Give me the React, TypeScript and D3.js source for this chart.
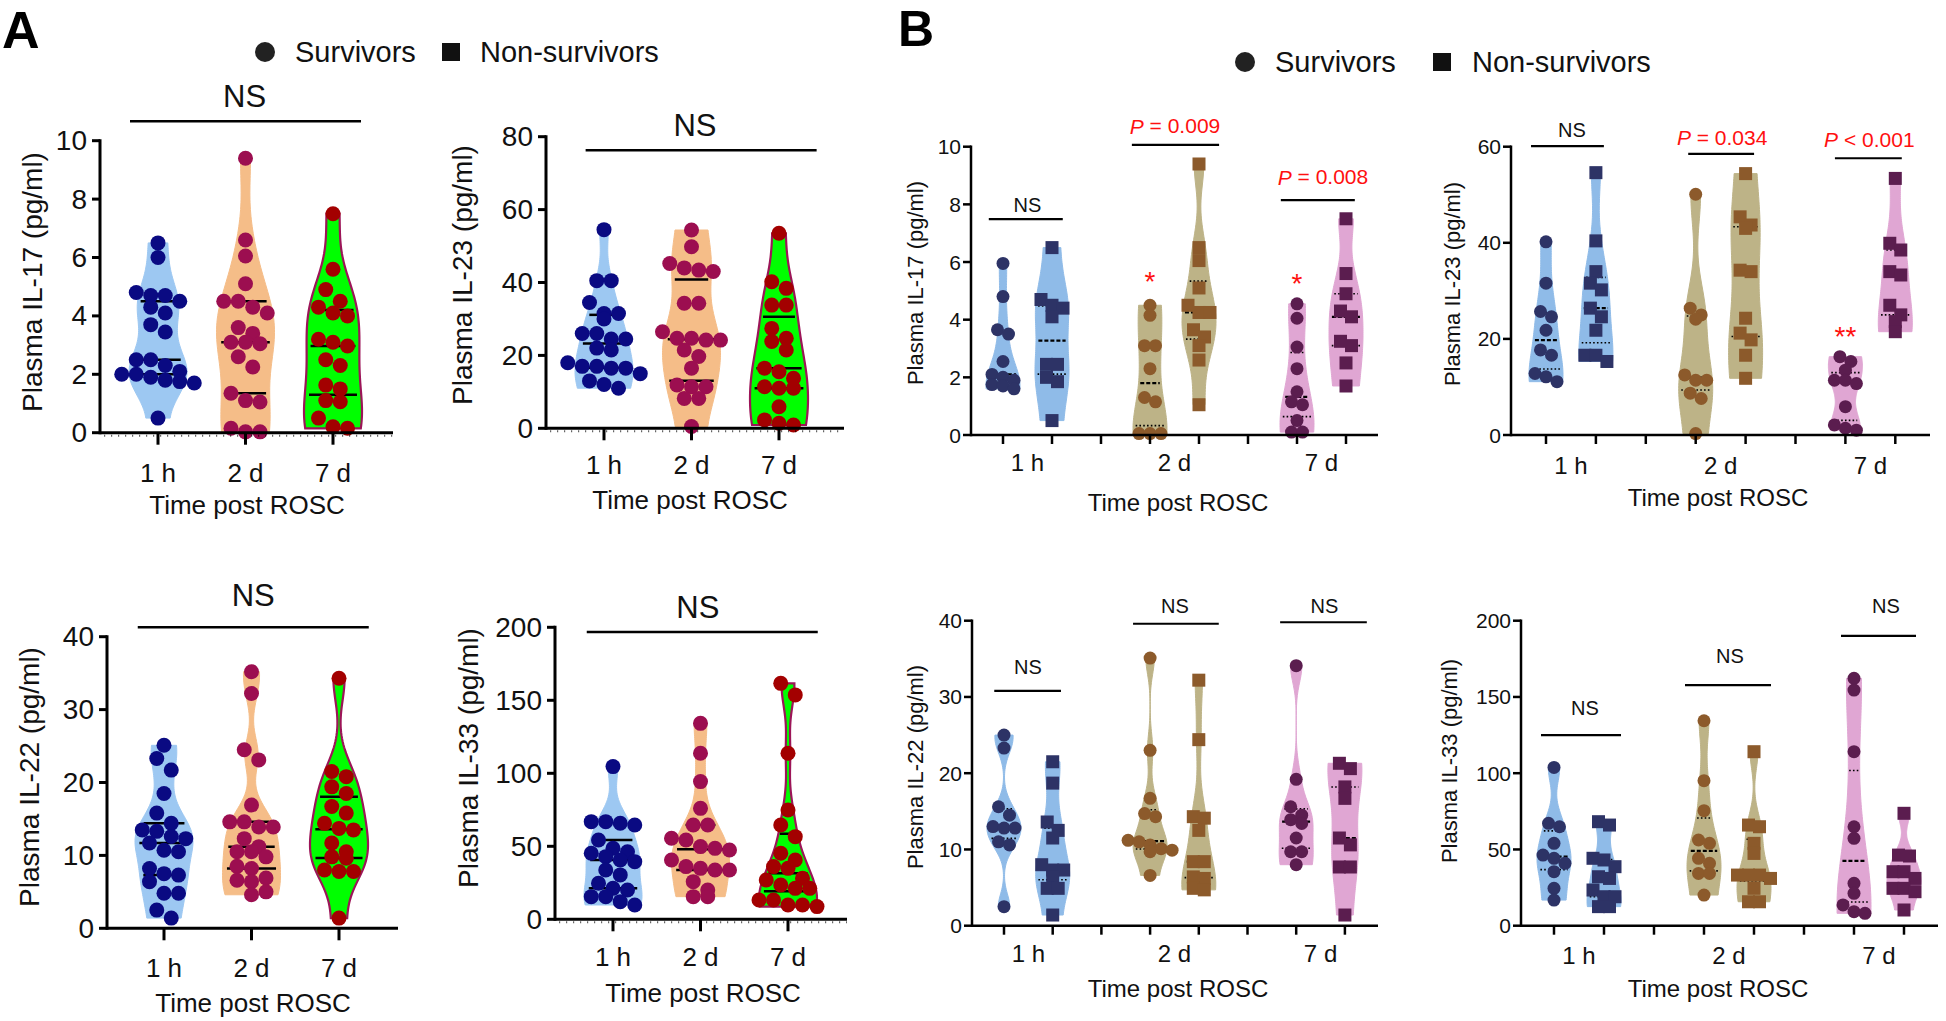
import React from 'react';
import * as d3 from 'd3';

// ================= DATA =================
const timeLabels = ['1 h', '2 d', '7 d'];
const legendLabels = ['Survivors', 'Non-survivors'];
const xTitle = 'Time post ROSC';

// Panel A (all patients) – values in pg/ml
const aIL17_1h = [6.5, 6.0, 4.8, 4.7, 4.7, 4.5, 4.3, 4.1, 3.7, 3.45, 2.5, 2.5, 2.3, 2.1, 2.0, 2.0, 1.9, 1.8, 1.75, 1.7, 0.5];
const aIL17_2d = [9.4, 6.6, 6.05, 5.1, 4.5, 4.5, 4.3, 4.1, 3.6, 3.4, 3.05, 3.1, 3.1, 2.6, 2.25, 1.35, 1.05, 1.1, 0.03, 0.03, 0.15];
const aIL17_7d = [7.5, 5.6, 4.9, 4.5, 4.3, 4.1, 4.0, 3.2, 3.1, 2.97, 2.5, 2.3, 1.63, 1.5, 1.06, 1.1, 0.5, 0.2, 0.15];

const aIL23_1h = [54.5, 40.5, 40.5, 34.5, 31.5, 31.5, 30, 26, 26, 24.5, 24.5, 22, 21.5, 18, 17, 16.5, 17, 16.5, 15, 13, 12, 11];
const aIL23_2d = [54.4, 49.8, 45.2, 43, 43.4, 44, 34.3, 34.3, 26.5, 24.2, 24.2, 24.7, 24.7, 21.5, 19.7, 16.5, 11.4, 11.9, 11.4, 8.2, 8.2, 0.5];
const aIL23_7d = [53.5, 40.2, 38.4, 33.8, 33.8, 27.4, 24.7, 23.8, 21.5, 15.5, 16.5, 13.7, 11, 11.4, 11, 5.9, 0.9, 1.4, 2.3];

const aIL22_1h = [25.1, 23.3, 21.7, 18.5, 15.8, 14.4, 12.6, 13.5, 12.3, 13.3, 11.7, 10.7, 10.5, 8.2, 7.5, 7.3, 6.4, 4.8, 4.8, 2.5, 1.4];
const aIL22_2d = [35.2, 32.2, 24.5, 23.1, 16.9, 14.6, 13.9, 13.9, 14.6, 12.3, 11.2, 10.5, 10.5, 9.8, 8.5, 8.2, 6.9, 6.4, 6.6, 4.6, 5.0];
const aIL22_7d = [34.3, 21.5, 20.8, 19.4, 18.5, 16.7, 15.8, 14.4, 13.7, 13.5, 11.7, 9.6, 10.5, 9.8, 8.0, 7.8, 7.8, 1.4];

const aIL33_1h = [104.6, 64.6, 65.8, 66.9, 66.9, 54.3, 48.6, 42.9, 46.3, 45.2, 40.6, 39.5, 33.8, 30.4, 24.7, 21.2, 20.1, 15.5, 15.5, 12.1, 9.8];
const aIL33_2d = [134.2, 113.7, 94.3, 76.0, 64.6, 64.6, 55.5, 54.3, 49.8, 48.6, 47.5, 40.6, 36.1, 33.8, 34.9, 33.8, 25.8, 20.1, 15.5, 15.5];
const aIL33_7d = [161.6, 153.7, 113.7, 74.9, 64.6, 56.6, 45.2, 40.6, 36.1, 34.9, 28.1, 26.9, 23.5, 21.2, 21.2, 13.2, 13.2, 9.8, 9.8, 8.7];

// Panel B (survivors S vs non-survivors N)
const bIL17_1hS = [5.95, 4.8, 3.65, 3.5, 2.55, 2.1, 2.0, 1.9, 1.75, 1.7, 1.6];
const bIL17_1hN = [6.5, 4.7, 4.5, 4.4, 4.1, 2.45, 2.45, 2.0, 1.85, 0.5];
const bIL17_2dS = [4.5, 4.15, 3.1, 3.1, 2.3, 1.3, 1.15, 0.05, 0.05, 0.05];
const bIL17_2dN = [9.4, 6.5, 6.05, 5.1, 4.5, 4.25, 4.25, 3.65, 3.4, 3.1, 2.6, 1.05];
const bIL17_7dS = [4.55, 4.05, 3.05, 2.3, 1.5, 1.15, 1.05, 0.5, 0.1, 0.1];
const bIL17_7dN = [7.5, 5.6, 4.9, 4.3, 4.1, 3.25, 3.1, 2.5, 1.7];

const bIL23_1hS = [40.2, 31.6, 25.7, 24.6, 21.8, 17.7, 16.6, 12.8, 12.1, 11.1];
const bIL23_1hN = [54.6, 40.4, 34.0, 31.6, 30.2, 26.4, 24.6, 21.8, 16.6, 16.6, 15.3];
const bIL23_2dS = [50.1, 26.4, 25.0, 24.1, 12.5, 11.4, 11.4, 8.7, 7.6, 0.3];
const bIL23_2dN = [54.4, 45.4, 43.7, 43.0, 34.3, 34.0, 24.3, 21.2, 19.8, 16.6, 11.8];
const bIL23_7dS = [16.3, 15.3, 13.5, 11.4, 11.4, 10.7, 5.9, 2.1, 1.4, 1.0];
const bIL23_7dN = [53.4, 39.9, 38.5, 34.0, 33.3, 27.0, 25.0, 23.6, 21.5];

const bIL22_1hS = [25.0, 23.3, 15.6, 14.5, 13.0, 12.8, 12.8, 11.0, 10.6, 2.5];
const bIL22_1hN = [21.5, 18.7, 13.6, 12.5, 11.5, 8.0, 7.3, 7.3, 6.4, 4.9, 4.9, 1.4];
const bIL22_2dS = [35.1, 23.0, 16.7, 14.7, 14.3, 11.2, 11.0, 10.6, 10.1, 9.9, 9.7, 6.6];
const bIL22_2dN = [32.2, 24.4, 14.3, 14.1, 12.5, 8.4, 8.4, 6.4, 6.2, 4.9, 4.7];
const bIL22_7dS = [34.1, 19.2, 15.6, 14.5, 13.9, 13.4, 11.5, 9.7, 9.7, 8.0];
const bIL22_7dN = [21.3, 20.6, 18.2, 16.7, 11.5, 10.6, 7.7, 7.7, 1.4];

const bIL33_1hS = [103.8, 67.1, 64.9, 54.0, 46.3, 44.2, 40.9, 35.4, 24.5, 16.8];
const bIL33_1hN = [68.2, 66.0, 44.2, 43.1, 38.7, 32.1, 31.0, 23.4, 19.0, 19.0, 12.5, 12.5];
const bIL33_2dS = [134.4, 95.1, 75.4, 56.2, 54.0, 44.2, 40.9, 34.3, 34.3, 20.1];
const bIL33_2dN = [114.1, 66.0, 64.9, 54.0, 47.4, 33.2, 33.2, 33.2, 31.0, 24.5, 15.7, 15.7];
const bIL33_7dS = [162.2, 154.5, 114.1, 64.9, 57.3, 27.8, 21.2, 13.6, 9.2, 8.1];
const bIL33_7dN = [73.7, 46.3, 45.7, 35.4, 35.4, 31.0, 24.5, 24.5, 22.3, 10.3];

// ================= STYLE =================
const FONT = '"Liberation Sans", Arial, Helvetica, sans-serif';
const A_COL = [
  { fill: '#9DC8F2', pt: '#0A0A82', stroke: 'none' },
  { fill: '#F5BD88', pt: '#9C0E50', stroke: 'none' },
  { fill: '#00FF00', pt: '#A30000', stroke: '#9C1558' },
];
const B_COL = [
  { fill: '#8FBBE8', pt: '#2D3366' },
  { fill: '#BDB387', pt: '#8C5A2B' },
  { fill: '#E0A6D3', pt: '#5B1D4F' },
];
const RED = '#FF1010';

type Group = { idx: number; values: number[]; fill: string; pt: string; stroke?: string; shape: 'c' | 's' };
type Sig = { x0: number; x1: number; y: number; ty: number; tx: number; text: string; p?: string };
type Star = { idx: number; y: number; text: string };
type Cfg = {
  kind: 'A' | 'B';
  axisX: number; yBottom: number; yTop: number; yMax: number; yStep: number;
  xFirst: number; xStep: number; xEnd: number;
  ylabel: string; ylx: number; yly: number;
  tickLabelY: number; titleX: number; titleY: number;
  groups: Group[]; sig: Sig[]; stars: Star[]; minor?: boolean;
};

const aGroups = (d: number[][]): Group[] =>
  d.map((v, i) => ({ idx: i, values: v, fill: A_COL[i].fill, pt: A_COL[i].pt, stroke: A_COL[i].stroke, shape: 'c' }));
const bGroups = (d: number[][]): Group[] =>
  d.map((v, i) => {
    const t = Math.floor(i / 2);
    return { idx: t * 3 + (i % 2), values: v, fill: B_COL[t].fill, pt: B_COL[t].pt, shape: i % 2 === 0 ? 'c' : 's' };
  });

const panels: Cfg[] = [
  {
    kind: 'A', axisX: 100, yBottom: 432.7, yTop: 140.7, yMax: 10, yStep: 2, xFirst: 158, xStep: 87.5, xEnd: 393,
    ylabel: 'Plasma IL-17 (pg/ml)', ylx: 32, yly: 282, tickLabelY: 473, titleX: 247, titleY: 505, minor: true,
    groups: aGroups([aIL17_1h, aIL17_2d, aIL17_7d]),
    sig: [{ x0: -0.32, x1: 2.32, y: 10.67, ty: 11.5, tx: 0.99, text: 'NS' }], stars: [],
  },
  {
    kind: 'A', axisX: 546, yBottom: 428.3, yTop: 136.7, yMax: 80, yStep: 20, xFirst: 604, xStep: 87.5, xEnd: 844,
    ylabel: 'Plasma IL-23 (pg/ml)', ylx: 462, yly: 275, tickLabelY: 465, titleX: 690, titleY: 500, minor: true,
    groups: aGroups([aIL23_1h, aIL23_2d, aIL23_7d]),
    sig: [{ x0: -0.21, x1: 2.43, y: 76.3, ty: 83.2, tx: 1.04, text: 'NS' }], stars: [],
  },
  {
    kind: 'A', axisX: 107, yBottom: 928.3, yTop: 636.7, yMax: 40, yStep: 10, xFirst: 164, xStep: 87.5, xEnd: 398,
    ylabel: 'Plasma IL-22 (pg/ml)', ylx: 29, yly: 777, tickLabelY: 968, titleX: 253, titleY: 1003,
    groups: aGroups([aIL22_1h, aIL22_2d, aIL22_7d]),
    sig: [{ x0: -0.3, x1: 2.34, y: 41.3, ty: 45.7, tx: 1.02, text: 'NS' }], stars: [],
  },
  {
    kind: 'A', axisX: 555, yBottom: 919.3, yTop: 627.3, yMax: 200, yStep: 50, xFirst: 613, xStep: 87.5, xEnd: 847,
    ylabel: 'Plasma IL-33 (pg/ml)', ylx: 468, yly: 758, tickLabelY: 957, titleX: 703, titleY: 993, minor: true,
    groups: aGroups([aIL33_1h, aIL33_2d, aIL33_7d]),
    sig: [{ x0: -0.3, x1: 2.34, y: 196.8, ty: 213.9, tx: 0.97, text: 'NS' }], stars: [],
  },
  {
    kind: 'B', axisX: 971, yBottom: 435, yTop: 146.7, yMax: 10, yStep: 2, xFirst: 1003, xStep: 49, xEnd: 1378,
    ylabel: 'Plasma IL-17 (pg/ml)', ylx: 915, yly: 283, tickLabelY: 462, titleX: 1178, titleY: 502,
    groups: bGroups([bIL17_1hS, bIL17_1hN, bIL17_2dS, bIL17_2dN, bIL17_7dS, bIL17_7dN]),
    sig: [
      { x0: -0.29, x1: 1.22, y: 7.49, ty: 7.98, tx: 0.5, text: 'NS' },
      { x0: 2.63, x1: 4.41, y: 10.06, ty: 10.72, tx: 3.51, text: '', p: ' = 0.009' },
      { x0: 5.67, x1: 7.18, y: 8.15, ty: 8.95, tx: 6.53, text: '', p: ' = 0.008' },
    ],
    stars: [{ idx: 3, y: 5.55, text: '*' }, { idx: 6, y: 5.48, text: '*' }],
  },
  {
    kind: 'B', axisX: 1511, yBottom: 435, yTop: 146.7, yMax: 60, yStep: 20, xFirst: 1546, xStep: 49.9, xEnd: 1930,
    ylabel: 'Plasma IL-23 (pg/ml)', ylx: 1452, yly: 284, tickLabelY: 465, titleX: 1718, titleY: 497,
    groups: bGroups([bIL23_1hS, bIL23_1hN, bIL23_2dS, bIL23_2dN, bIL23_7dS, bIL23_7dN]),
    sig: [
      { x0: -0.3, x1: 1.16, y: 60.1, ty: 63.5, tx: 0.52, text: 'NS' },
      { x0: 2.85, x1: 4.17, y: 58.5, ty: 62, tx: 3.53, text: '', p: ' = 0.034' },
      { x0: 5.79, x1: 7.13, y: 57.6, ty: 61.6, tx: 6.48, text: '', p: ' < 0.001' },
    ],
    stars: [{ idx: 6, y: 21.9, text: '**' }],
  },
  {
    kind: 'B', axisX: 972, yBottom: 925.7, yTop: 620.7, yMax: 40, yStep: 10, xFirst: 1004, xStep: 48.7, xEnd: 1378,
    ylabel: 'Plasma IL-22 (pg/ml)', ylx: 915, yly: 767, tickLabelY: 953, titleX: 1178, titleY: 988,
    groups: bGroups([bIL22_1hS, bIL22_1hN, bIL22_2dS, bIL22_2dN, bIL22_7dS, bIL22_7dN]),
    sig: [
      { x0: -0.2, x1: 1.17, y: 30.8, ty: 33.9, tx: 0.49, text: 'NS' },
      { x0: 2.65, x1: 4.41, y: 39.6, ty: 41.9, tx: 3.51, text: 'NS' },
      { x0: 5.67, x1: 7.45, y: 39.8, ty: 41.9, tx: 6.58, text: 'NS' },
    ],
    stars: [],
  },
  {
    kind: 'B', axisX: 1521, yBottom: 925.7, yTop: 620.7, yMax: 200, yStep: 50, xFirst: 1554, xStep: 50, xEnd: 1938,
    ylabel: 'Plasma IL-33 (pg/ml)', ylx: 1449, yly: 761, tickLabelY: 955, titleX: 1718, titleY: 988,
    groups: bGroups([bIL33_1hS, bIL33_1hN, bIL33_2dS, bIL33_2dN, bIL33_7dS, bIL33_7dN]),
    sig: [
      { x0: -0.26, x1: 1.34, y: 125, ty: 142.8, tx: 0.62, text: 'NS' },
      { x0: 2.62, x1: 4.34, y: 157.8, ty: 176.9, tx: 3.52, text: 'NS' },
      { x0: 5.74, x1: 7.24, y: 190, ty: 209.6, tx: 6.64, text: 'NS' },
    ],
    stars: [],
  },
];

// ================= HELPERS =================
function bandwidth(vals: number[]) {
  const s = [...vals].sort(d3.ascending);
  const sd = d3.deviation(s) || 1;
  const iqr = (d3.quantile(s, 0.75) as number) - (d3.quantile(s, 0.25) as number);
  const m = iqr > 0 ? Math.min(sd, iqr / 1.34) : sd;
  return 0.9 * m * Math.pow(s.length, -0.2);
}

// Gaussian KDE with partial reflection at the data range boundaries (truncated ends stay fairly wide)
function makeKde(vals: number[]) {
  const h = bandwidth(vals);
  const lo = d3.min(vals) as number;
  const hi = d3.max(vals) as number;
  const wr = 0.6;
  const k = (u: number) => Math.exp(-0.5 * (u / h) ** 2);
  return (v: number) => d3.sum(vals, (x) => k(v - x) + wr * (k(v - (2 * lo - x)) + k(v - (2 * hi - x))));
}

function swarm(vals: number[], y: (v: number) => number, cx: number, step: number, thresh: number) {
  const pts = vals.map((v) => ({ v, py: y(v), px: cx })).sort((a, b) => a.py - b.py);
  const rows: typeof pts[] = [];
  let cur: typeof pts | null = null;
  for (const p of pts) {
    if (!cur || p.py - cur[0].py > thresh) {
      cur = [p];
      rows.push(cur);
    } else cur.push(p);
  }
  rows.forEach((r) => r.forEach((p, i) => (p.px = cx + (i - (r.length - 1) / 2) * step)));
  return pts;
}

function Panel({ c }: { c: Cfg }) {
  const isA = c.kind === 'A';
  const x = d3.scaleLinear().domain([0, 1]).range([c.xFirst, c.xFirst + c.xStep]);
  const y = d3.scaleLinear().domain([0, c.yMax]).range([c.yBottom, c.yTop]);
  const W = isA ? 29 : 17;
  const r = isA ? 7.5 : 6.5;
  const step = isA ? 14.5 : 11;
  const thresh = isA ? 12 : 10;
  const axW = isA ? 3 : 2.5;
  const ticks = d3.range(0, c.yMax + 0.001, c.yStep);
  const xTickIdx = isA ? [0, 1, 2] : d3.range(0, 8);
  const xLabelIdx = isA ? [0, 1, 2] : [0.5, 3.5, 6.5];

  const violins = c.groups.map((g, gi) => {
    const kde = makeKde(g.values);
    const lo = d3.min(g.values) as number;
    const hi = d3.max(g.values) as number;
    const grid = d3.range(0, 81).map((i) => lo + ((hi - lo) * i) / 80);
    const dens = grid.map(kde);
    const mx = d3.max(dens) as number;
    const hw = (v: number) => (kde(v) / mx) * W;
    const cx = x(g.idx);
    const area = d3
      .area<[number, number]>()
      .y((d) => y(d[0]))
      .x0((d) => cx - d[1])
      .x1((d) => cx + d[1])
      .curve(d3.curveLinear);
    const path = area(grid.map((v, i) => [v, (dens[i] / mx) * W] as [number, number])) || '';
    const s = [...g.values].sort(d3.ascending);
    const qs = [0.25, 0.5, 0.75].map((q) => d3.quantile(s, q) as number);
    const pts = swarm(g.values, y, cx, step, thresh);
    return { g, gi, path, qs, hw, cx, pts };
  });

  return (
    <g>
      {/* violins */}
      {violins.map((vi) => (
        <path key={'v' + vi.gi} d={vi.path} fill={vi.g.fill} stroke={vi.g.stroke && vi.g.stroke !== 'none' ? vi.g.stroke : vi.g.fill}
          strokeWidth={vi.g.stroke && vi.g.stroke !== 'none' ? 2.2 : 1} />
      ))}
      {/* median & quartiles */}
      {violins.map((vi) =>
        vi.qs.map((q, k) => {
          const w = Math.max(vi.hw(q) * 0.85, 4);
          return (
            <line key={'q' + vi.gi + k} x1={vi.cx - w} x2={vi.cx + w} y1={y(q)} y2={y(q)} stroke="#000"
              strokeWidth={isA ? 2.5 : k === 1 ? 2.2 : 1.6}
              strokeDasharray={isA ? undefined : k === 1 ? '4 2' : '1.6 2.2'} />
          );
        })
      )}
      {/* points */}
      {violins.map((vi) =>
        vi.pts.map((p, k) =>
          vi.g.shape === 'c' ? (
            <circle key={'p' + vi.gi + '-' + k} cx={p.px} cy={p.py} r={r} fill={vi.g.pt} />
          ) : (
            <rect key={'p' + vi.gi + '-' + k} x={p.px - r} y={p.py - r} width={2 * r} height={2 * r} fill={vi.g.pt} />
          )
        )
      )}
      {/* y axis */}
      <line x1={c.axisX} x2={c.axisX} y1={c.yBottom + axW / 2} y2={c.yTop - axW / 2} stroke="#000" strokeWidth={axW} />
      {ticks.map((t) => (
        <g key={'yt' + t}>
          <line x1={c.axisX - 8} x2={c.axisX} y1={y(t)} y2={y(t)} stroke="#000" strokeWidth={axW} />
          <text x={c.axisX - (isA ? 13 : 10)} y={y(t)} textAnchor="end" dominantBaseline="central" fontSize={isA ? 28 : 21} fill="#111">
            {t}
          </text>
        </g>
      ))}
      {/* x axis */}
      <line x1={c.axisX} x2={c.xEnd} y1={c.yBottom} y2={c.yBottom} stroke="#000" strokeWidth={axW} />
      {c.minor && (
        <line x1={c.axisX + 4} x2={c.xEnd} y1={c.yBottom + 3} y2={c.yBottom + 3} stroke="#000" strokeWidth={2} strokeDasharray="1.2 5.8" opacity={0.6} />
      )}
      {xTickIdx.map((i) => (
        <line key={'xt' + i} x1={x(i)} x2={x(i)} y1={c.yBottom} y2={c.yBottom + (isA ? 12 : 9)} stroke="#000" strokeWidth={axW} />
      ))}
      {xLabelIdx.map((i, k) => (
        <text key={'xl' + k} x={x(i)} y={c.tickLabelY} textAnchor="middle" dominantBaseline="central" fontSize={isA ? 26 : 24} fill="#111">
          {timeLabels[k]}
        </text>
      ))}
      <text x={c.titleX} y={c.titleY} textAnchor="middle" dominantBaseline="central" fontSize={isA ? 26 : 24} fill="#111">
        {xTitle}
      </text>
      <text transform={`translate(${c.ylx},${c.yly}) rotate(-90)`} textAnchor="middle" dominantBaseline="central" fontSize={isA ? 28 : 22} fill="#111">
        {c.ylabel}
      </text>
      {/* significance */}
      {c.sig.map((s, k) => (
        <g key={'s' + k}>
          <line x1={x(s.x0)} x2={x(s.x1)} y1={y(s.y)} y2={y(s.y)} stroke="#000" strokeWidth={isA ? 2.5 : 2.2} />
          {s.p ? (
            <text x={x(s.tx)} y={y(s.ty)} textAnchor="middle" dominantBaseline="central" fontSize={21} fill={RED}>
              <tspan fontStyle="italic">P</tspan>
              {s.p}
            </text>
          ) : (
            <text x={x(s.tx)} y={y(s.ty)} textAnchor="middle" dominantBaseline="central" fontSize={isA ? 31 : 20} fill="#111">
              {s.text}
            </text>
          )}
        </g>
      ))}
      {c.stars.map((s, k) => (
        <text key={'st' + k} x={x(s.idx)} y={y(s.y) + 0.57 * 28} textAnchor="middle" fontSize={28} fill={RED}>
          {s.text}
        </text>
      ))}
    </g>
  );
}

export default function App() {
  return (
    <svg width={1946} height={1021} style={{ position: 'absolute', left: 0, top: 0 }} fontFamily={FONT}>
      <rect x={0} y={0} width={1946} height={1021} fill="#fff" />
      <text x={2} y={48} fontSize={52} fontWeight="bold" fill="#000">A</text>
      <text x={898} y={46} fontSize={50} fontWeight="bold" fill="#000">B</text>
      {/* legend A */}
      <circle cx={265} cy={52} r={10} fill="#222" />
      <text x={295} y={52} dominantBaseline="central" fontSize={29} fill="#111">{legendLabels[0]}</text>
      <rect x={442} y={43} width={18} height={18} fill="#111" />
      <text x={480} y={52} dominantBaseline="central" fontSize={29} fill="#111">{legendLabels[1]}</text>
      {/* legend B */}
      <circle cx={1245} cy={62} r={10} fill="#222" />
      <text x={1275} y={62} dominantBaseline="central" fontSize={29} fill="#111">{legendLabels[0]}</text>
      <rect x={1433} y={53} width={18} height={18} fill="#111" />
      <text x={1472} y={62} dominantBaseline="central" fontSize={29} fill="#111">{legendLabels[1]}</text>
      {panels.map((c, i) => (
        <Panel key={i} c={c} />
      ))}
    </svg>
  );
}
